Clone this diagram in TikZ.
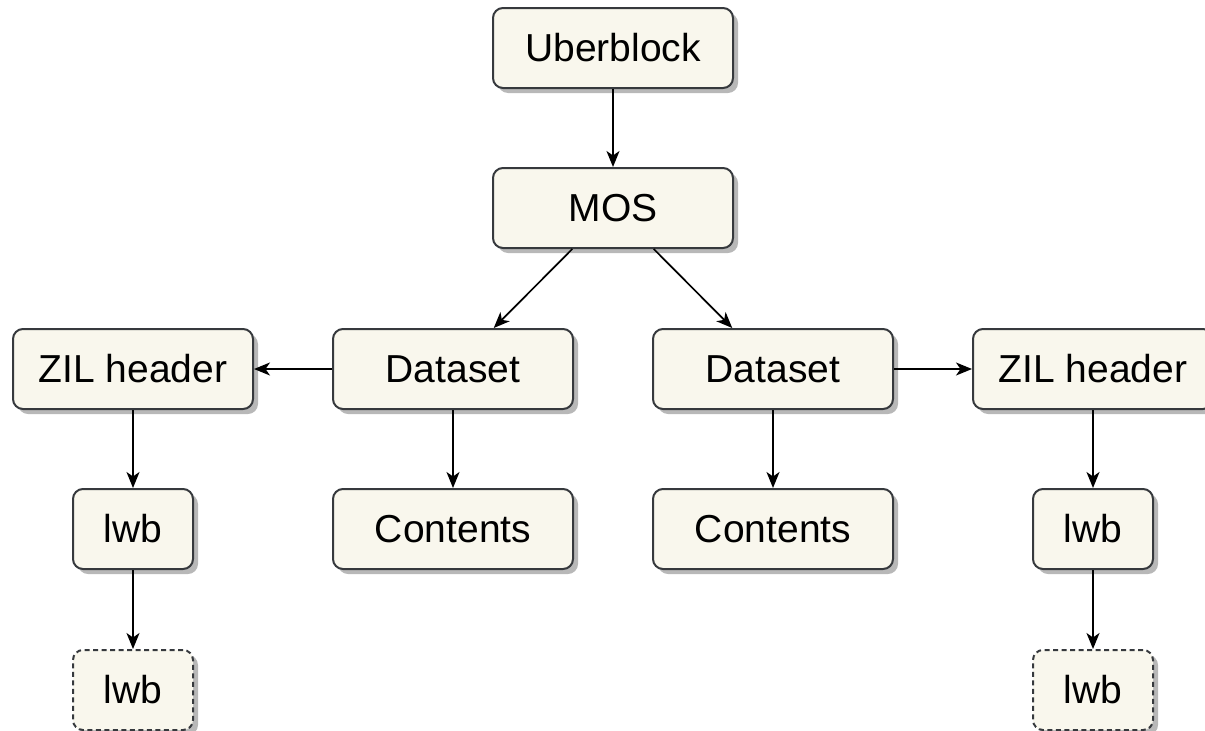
\documentclass[tikz,border=0pt]{standalone}
\usepackage{fontspec}
\setmainfont{Liberation Sans}
\usetikzlibrary{arrows.meta,shadows}
\definecolor{boxfill}{HTML}{F9F7ED}
\definecolor{boxline}{HTML}{36393D}
\tikzset{
  box/.style={draw=boxline, fill=boxfill, line width=2pt, rounded corners=10pt,
    minimum height=80pt, inner sep=0pt, font=\fontsize{39}{46}\selectfont,
    drop shadow={shadow xshift=5pt, shadow yshift=-5pt, fill=black, opacity=0.28}},
  wide/.style={box, minimum width=240pt},
  narrow/.style={box, minimum width=120pt},
  ghost/.style={narrow, dash pattern=on 5pt off 3.5pt},
  conn/.style={line width=1.7pt, draw=black, -{Stealth[length=16pt,width=13pt,inset=4.5pt]}}
}
\begin{document}
\begin{tikzpicture}[x=1pt,y=-1pt]
\useasboundingbox (0,0) rectangle (1205,731);
\clip (0,0) rectangle (1205,731);
\node[wide] (uber) at (613,48) {Uberblock};
\node[wide] (mos) at (613,208) {MOS};
\node[wide] (dsl) at (453,369) {Dataset};
\node[wide] (dsr) at (773,369) {Dataset};
\node[wide] (zill) at (133,369) {ZIL header};
\node[wide] (zilr) at (1093,369) {ZIL header};
\node[wide] (cl) at (453,529) {Contents};
\node[wide] (cr) at (773,529) {Contents};
\node[narrow] (lwbl) at (133,529) {lwb};
\node[narrow] (lwbr) at (1093,529) {lwb};
\node[ghost] (gl) at (133,690) {lwb};
\node[ghost] (gr) at (1093,690) {lwb};
\draw[conn] (uber) -- (mos);
\draw[conn] (mos) -- (dsl);
\draw[conn] (mos) -- (dsr);
\draw[conn] (dsl) -- (zill);
\draw[conn] (dsr) -- (zilr);
\draw[conn] (dsl) -- (cl);
\draw[conn] (dsr) -- (cr);
\draw[conn] (zill) -- (lwbl);
\draw[conn] (zilr) -- (lwbr);
\draw[conn] (lwbl) -- (gl);
\draw[conn] (lwbr) -- (gr);
\end{tikzpicture}
\end{document}
